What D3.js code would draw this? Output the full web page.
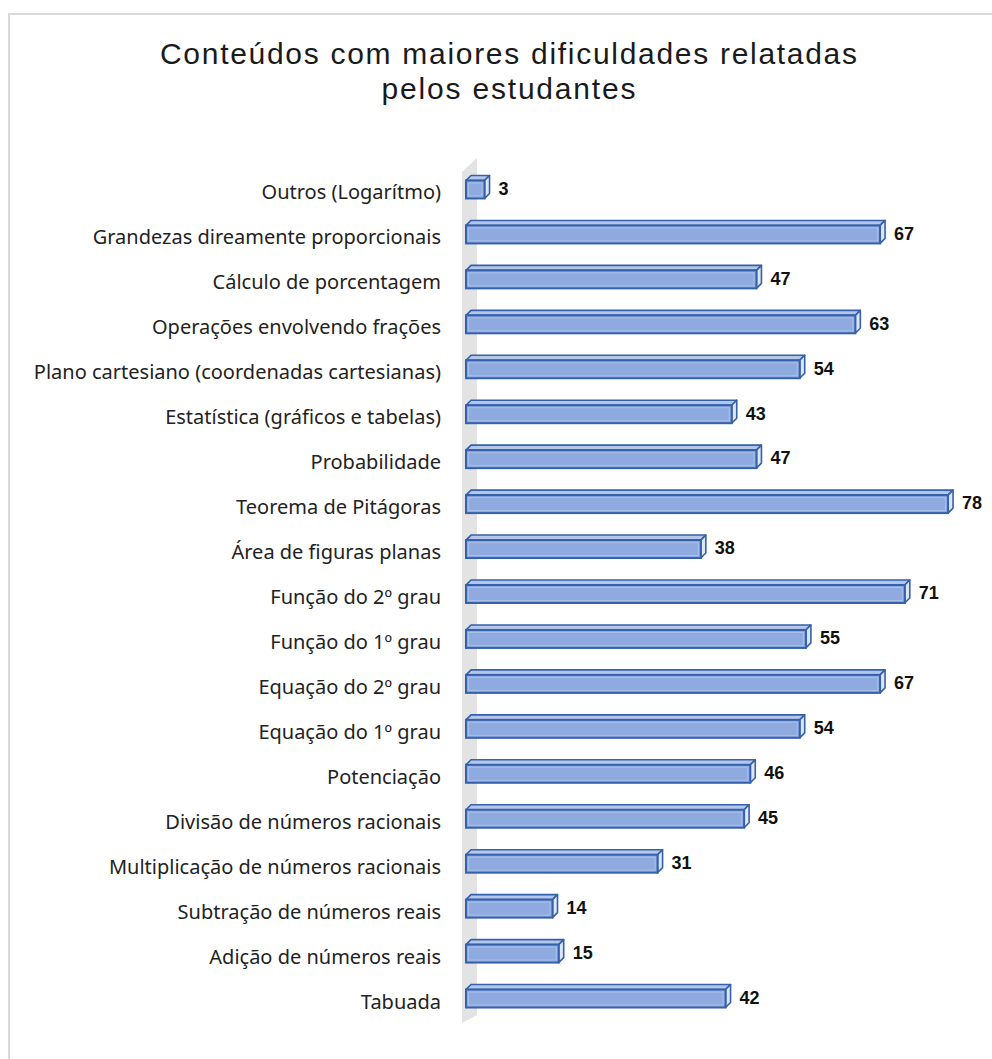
<!DOCTYPE html>
<html>
<head>
<meta charset="utf-8">
<script src="https://cdn.jsdelivr.net/npm/d3@7"></script>
<style>
  html, body { margin: 0; padding: 0; background: #fff; }
  svg { display: block; }
</style>
</head>
<body>
<svg id="chart" width="992" height="1059"></svg>
<script>
const categories = [
  "Outros (Logarítmo)",
  "Grandezas direamente proporcionais",
  "Cálculo de porcentagem",
  "Operações envolvendo frações",
  "Plano cartesiano (coordenadas cartesianas)",
  "Estatística (gráficos e tabelas)",
  "Probabilidade",
  "Teorema de Pitágoras",
  "Área de figuras planas",
  "Função do 2º grau",
  "Função do 1º grau",
  "Equação do 2º grau",
  "Equação do 1º grau",
  "Potenciação",
  "Divisão de números racionais",
  "Multiplicação de números racionais",
  "Subtração de números reais",
  "Adição de números reais",
  "Tabuada"
];
const values = [3, 67, 47, 63, 54, 43, 47, 78, 38, 71, 55, 67, 54, 46, 45, 31, 14, 15, 42];
const titleLines = ["Conteúdos com maiores dificuldades relatadas", "pelos estudantes"];
const titleWidths = [697, 254];

const svg = d3.select("#chart");

// outer chart frame
svg.append("rect")
  .attr("x", 9).attr("y", 14)
  .attr("width", 1000).attr("height", 1060)
  .attr("fill", "#fff")
  .attr("stroke", "#d9d9d9")
  .attr("stroke-width", 2);

// title
svg.append("g").selectAll("text")
  .data(titleLines)
  .enter().append("text")
  .attr("x", 508.5)
  .attr("y", (d, i) => 64 + i * 35)
  .attr("text-anchor", "middle")
  .attr("font-family", "Liberation Sans, Arial, sans-serif")
  .attr("font-size", 30)
  .attr("textLength", (d, i) => titleWidths[i])
  .attr("lengthAdjust", "spacing")
  .attr("fill", "#1a1a1a")
  .text(d => d);

const x = d3.scaleLinear().domain([0, 80]).range([466, 466 + 80 * 6.18]);
const y = d3.scaleBand().domain(categories).range([167, 1021])
  .paddingInner(0.6).paddingOuter(0.3);

const dx = 5, dy = -5; // 3d depth offset

// back wall
const wallX = x(0) - 4;
svg.append("path")
  .attr("d", `M${wallX},172 L${wallX + 15},158 L${wallX + 15},1015 L${wallX},1023 Z`)
  .attr("fill", "#e3e3e3");

const bars = svg.append("g").selectAll("g")
  .data(categories.map((c, i) => ({ c, v: values[i] })))
  .enter().append("g");

const stroke = "#3560ac";

// top face
bars.append("path")
  .attr("d", d => {
    const x0 = x(0), x1 = x(d.v), yt = y(d.c);
    return `M${x0},${yt} L${x0 + dx},${yt + dy} L${x1 + dx},${yt + dy} L${x1},${yt} Z`;
  })
  .attr("fill", "#b4c7e9")
  .attr("stroke", stroke)
  .attr("stroke-width", 1.6)
  .attr("stroke-linejoin", "round");

// right face
bars.append("path")
  .attr("d", d => {
    const x1 = x(d.v), yt = y(d.c), yb = yt + y.bandwidth();
    return `M${x1},${yt} L${x1 + dx},${yt + dy} L${x1 + dx},${yb + dy} L${x1},${yb} Z`;
  })
  .attr("fill", "#dde6f5")
  .attr("stroke", stroke)
  .attr("stroke-width", 1.6)
  .attr("stroke-linejoin", "round");

// front face
bars.append("rect")
  .attr("x", x(0))
  .attr("y", d => y(d.c))
  .attr("width", d => x(d.v) - x(0))
  .attr("height", y.bandwidth())
  .attr("fill", "#8eaadf")
  .attr("stroke", stroke)
  .attr("stroke-width", 2);

// inner highlight on front face
bars.append("rect")
  .attr("x", x(0) + 2.5)
  .attr("y", d => y(d.c) + 2.5)
  .attr("width", d => Math.max(0, x(d.v) - x(0) - 5))
  .attr("height", y.bandwidth() - 5)
  .attr("fill", "none")
  .attr("stroke", "#a9bfe8")
  .attr("stroke-width", 1);

// value labels
bars.append("text")
  .attr("x", d => x(d.v) + dx + 9)
  .attr("y", d => y(d.c) + y.bandwidth() / 2 - 1)
  .attr("dy", "0.35em")
  .attr("font-family", "Liberation Sans, Arial, sans-serif")
  .attr("font-weight", "bold")
  .attr("font-size", 18)
  .attr("fill", "#111")
  .text(d => d.v);

// category axis labels
svg.append("g").selectAll("text")
  .data(categories)
  .enter().append("text")
  .attr("x", 441)
  .attr("y", d => y(d) + y.bandwidth() / 2 + 3)
  .attr("dy", "0.35em")
  .attr("text-anchor", "end")
  .attr("font-family", "Noto Sans, Open Sans, sans-serif")
  .attr("font-size", 20)
  .attr("fill", "#222")
  .text(d => d);
</script>
</body>
</html>
